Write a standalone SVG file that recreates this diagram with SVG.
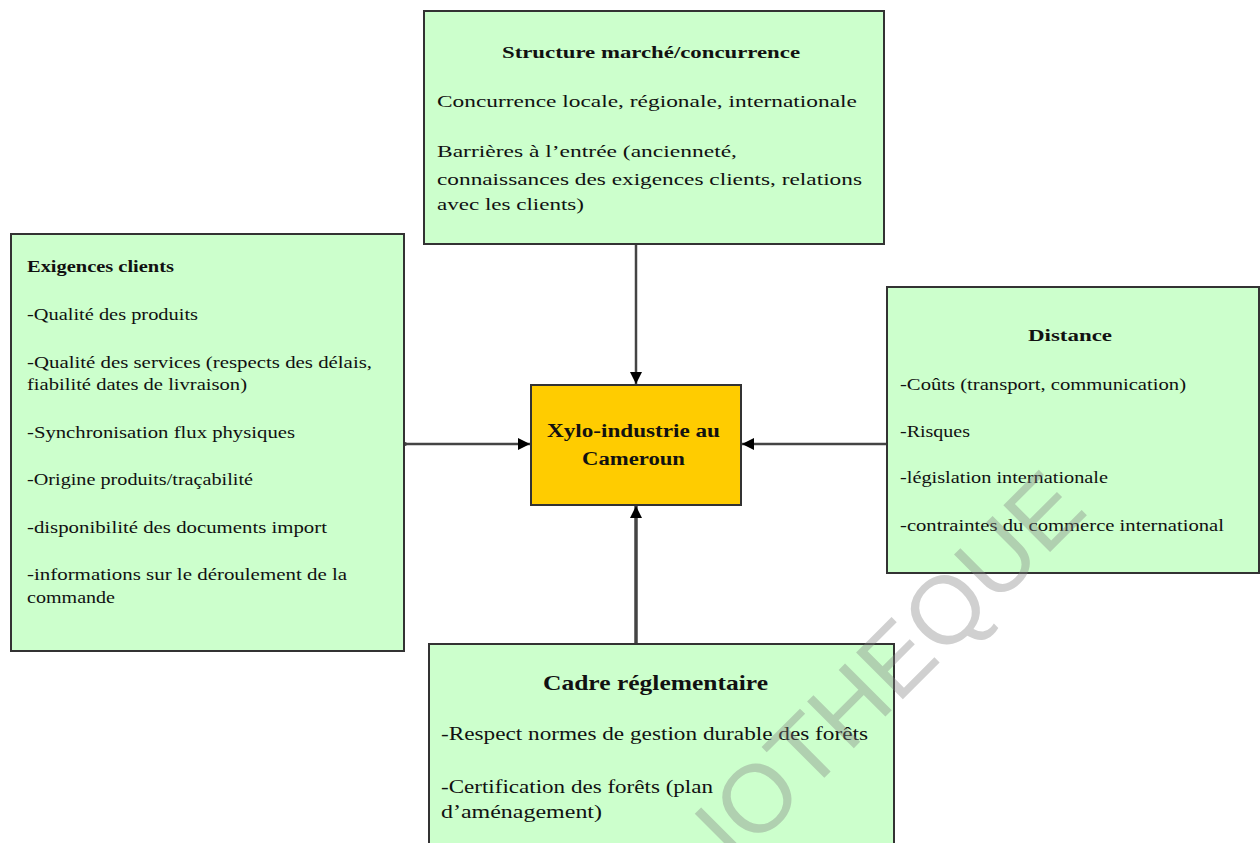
<svg xmlns="http://www.w3.org/2000/svg" width="1260" height="843" viewBox="0 0 1260 843">
<style>
.box{fill:#ccffcc;stroke:#333333;stroke-width:2}
.core{fill:#ffcc00;stroke:#333333;stroke-width:2}
.t{font-family:"Liberation Serif","Times New Roman",serif;font-size:17px;fill:#111111}
.tb{font-family:"Liberation Serif","Times New Roman",serif;font-size:17px;font-weight:bold;fill:#111111}
.big{font-family:"Liberation Serif","Times New Roman",serif;font-size:22px;font-weight:bold;fill:#111111}
.c{fill:none;stroke:#444444;stroke-width:2.5}
.wm{font-family:"Liberation Sans",Arial,sans-serif;font-size:96px;fill:#808080;fill-opacity:0.37}
</style>
<defs>
<marker id="ah" viewBox="0 0 10 10" refX="10" refY="5" markerWidth="14" markerHeight="12" markerUnits="userSpaceOnUse" orient="auto">
<path d="M0,0 L10,5 L0,10 Z" fill="#000000"/>
</marker>
</defs>
<g id="connectors">
<line class="c" x1="636" y1="245" x2="636" y2="384" marker-end="url(#ah)"/>
<line class="c" x1="405" y1="444" x2="530" y2="444" marker-end="url(#ah)"/>
<line class="c" x1="886" y1="444" x2="742" y2="444" marker-end="url(#ah)"/>
<line class="c" style="stroke-width:3.5" x1="636" y1="643" x2="636" y2="506" marker-end="url(#ah)"/>
<circle cx="405" cy="444" r="2" fill="#444444"/>
</g>
<g id="structure">
<rect class="box" x="424" y="11" width="460" height="233"/>
<text class="tb" x="502" y="58" textLength="298" lengthAdjust="spacingAndGlyphs">Structure marché/concurrence</text>
<text class="t" x="437" y="107" textLength="420" lengthAdjust="spacingAndGlyphs">Concurrence locale, régionale, internationale</text>
<text class="t" x="437" y="157" textLength="300" lengthAdjust="spacingAndGlyphs">Barrières à l’entrée (ancienneté,</text>
<text class="t" x="437" y="185" textLength="425" lengthAdjust="spacingAndGlyphs">connaissances des exigences clients, relations</text>
<text class="t" x="437" y="210" textLength="147" lengthAdjust="spacingAndGlyphs">avec les clients)</text>
</g>
<g id="exigences">
<rect class="box" x="11" y="234" width="393" height="417"/>
<text class="tb" x="27" y="272" textLength="147" lengthAdjust="spacingAndGlyphs">Exigences clients</text>
<text class="t" x="27" y="320" textLength="171" lengthAdjust="spacingAndGlyphs">-Qualité des produits</text>
<text class="t" x="27" y="368" textLength="345" lengthAdjust="spacingAndGlyphs">-Qualité des services (respects des délais,</text>
<text class="t" x="27" y="390" textLength="220" lengthAdjust="spacingAndGlyphs">fiabilité dates de livraison)</text>
<text class="t" x="27" y="438" textLength="268" lengthAdjust="spacingAndGlyphs">-Synchronisation flux physiques</text>
<text class="t" x="27" y="485" textLength="226" lengthAdjust="spacingAndGlyphs">-Origine produits/traçabilité</text>
<text class="t" x="27" y="533" textLength="300" lengthAdjust="spacingAndGlyphs">-disponibilité des documents import</text>
<text class="t" x="27" y="580" textLength="320" lengthAdjust="spacingAndGlyphs">-informations sur le déroulement de la</text>
<text class="t" x="27" y="603" textLength="88" lengthAdjust="spacingAndGlyphs">commande</text>
</g>
<g id="distance">
<rect class="box" x="887" y="287" width="372" height="286"/>
<text class="tb" x="1028" y="341" textLength="84" lengthAdjust="spacingAndGlyphs">Distance</text>
<text class="t" x="900" y="390" textLength="286" lengthAdjust="spacingAndGlyphs">-Coûts (transport, communication)</text>
<text class="t" x="900" y="437" textLength="70" lengthAdjust="spacingAndGlyphs">-Risques</text>
<text class="t" x="900" y="483" textLength="208" lengthAdjust="spacingAndGlyphs">-législation internationale</text>
<text class="t" x="900" y="531" textLength="324" lengthAdjust="spacingAndGlyphs">-contraintes du commerce international</text>
</g>
<g id="cadre">
<rect class="box" x="429" y="644" width="465" height="210"/>
<text class="big" x="543" y="690" textLength="225" lengthAdjust="spacingAndGlyphs">Cadre réglementaire</text>
<text class="t" style="font-size:18px" x="441" y="740" textLength="427" lengthAdjust="spacingAndGlyphs">-Respect normes de gestion durable des forêts</text>
<text class="t" style="font-size:18px" x="441" y="793" textLength="272" lengthAdjust="spacingAndGlyphs">-Certification des forêts (plan</text>
<text class="t" style="font-size:18px" x="441" y="818" textLength="161" lengthAdjust="spacingAndGlyphs">d’aménagement)</text>
</g>
<g id="xylo">
<rect class="core" x="531" y="385" width="210" height="120"/>
<text class="tb" style="font-size:18px" x="547" y="437" textLength="173" lengthAdjust="spacingAndGlyphs">Xylo-industrie au</text>
<text class="tb" style="font-size:18px" x="582" y="465" textLength="103" lengthAdjust="spacingAndGlyphs">Cameroun</text>
</g>
<text class="wm" transform="rotate(-45 588 1014)" x="588" y="1014">BIBLIOTHEQUE</text>
</svg>
